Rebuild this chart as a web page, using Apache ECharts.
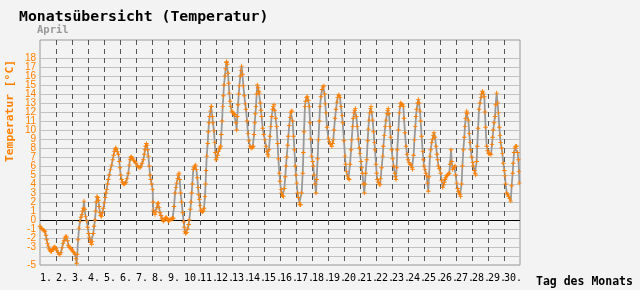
<!DOCTYPE html>
<html>
<head>
<meta charset="utf-8">
<script src="https://cdn.jsdelivr.net/npm/echarts@6/dist/echarts.min.js"></script>
<style>
html,body{margin:0;padding:0;background:#f3f3f3;}
#c{width:640px;height:290px;}
</style>
</head>
<body>
<div id="c"></div>
<script>
// time in days since 1 April 00:00 and temperature in °C
var dayTimes = [
0.00,0.06,0.13,0.2,0.27,0.31,0.37,0.42,0.47,0.52,0.57,0.625,0.68,0.73,0.78,0.83,0.88,0.94,1.0,1.06,1.12,1.19,1.25,1.31,1.38,1.44,1.5,1.56,1.62,1.67,1.72,1.77,1.83,1.875,1.94,
2.0,2.06,2.12,2.19,2.25,2.29,2.33,2.38,2.44,2.5,2.56,2.62,2.67,2.71,2.75,2.79,2.85,2.92,2.98,3.04,3.08,3.125,3.17,3.23,3.27,3.33,3.38,3.44,3.48,3.52,3.56,3.6,3.65,3.69,3.75,3.79,3.85,3.9,3.96,
4.02,4.08,4.12,4.17,4.22,4.27,4.33,4.4,4.48,4.54,4.6,4.65,4.69,4.73,4.77,4.83,4.9,4.96,5.0,5.04,5.1,5.15,5.21,5.27,5.33,5.375,5.44,5.52,5.58,5.625,5.67,5.73,5.79,5.85,5.94,
6.0,6.08,6.15,6.25,6.31,6.38,6.46,6.52,6.56,6.6,6.65,6.69,6.73,6.77,6.83,6.88,6.92,6.98,7.04,7.06,7.08,7.13,7.19,7.25,7.31,7.35,7.4,7.44,7.5,7.56,7.62,7.67,7.71,7.77,7.83,7.88,7.92,7.98,
8.04,8.08,8.125,8.19,8.25,8.29,8.33,8.38,8.44,8.5,8.54,8.6,8.65,8.69,8.73,8.79,8.85,8.92,8.98,9.02,9.06,9.1,9.17,9.23,9.29,9.33,9.4,9.44,9.48,9.52,9.58,9.62,9.67,9.73,9.77,9.83,9.88,9.92,9.96,
10.0,10.04,10.1,10.15,10.21,10.25,10.31,10.35,10.38,10.42,10.48,10.52,10.56,10.6,10.65,10.69,10.73,10.77,10.81,10.875,10.92,10.96,
11.0,11.04,11.1,11.15,11.21,11.25,11.29,11.33,11.38,11.42,11.46,11.5,11.56,11.6,11.65,11.67,11.71,11.75,11.79,11.83,11.88,11.92,11.98,
12.04,12.1,12.15,12.19,12.25,12.29,12.33,12.38,12.42,12.46,12.52,12.56,12.6,12.65,12.71,12.77,12.83,12.875,12.94,
13.0,13.06,13.125,13.19,13.25,13.29,13.33,13.38,13.42,13.46,13.5,13.54,13.58,13.63,13.67,13.71,13.77,13.81,13.85,13.92,13.98,
14.06,14.12,14.19,14.23,14.27,14.31,14.375,14.42,14.48,14.54,14.58,14.625,14.67,14.73,14.79,14.85,14.9,14.96,
15.0,15.06,15.1,15.15,15.21,15.27,15.33,15.375,15.42,15.48,15.52,15.58,15.63,15.67,15.71,15.75,15.79,15.85,15.9,15.96,
16.0,16.04,16.1,16.15,16.21,16.25,16.29,16.35,16.42,16.46,16.5,16.56,16.6,16.65,16.71,16.77,16.83,16.88,16.92,16.98,
17.04,17.08,17.13,17.19,17.25,17.29,17.35,17.4,17.46,17.5,17.56,17.625,17.69,17.75,17.79,17.83,17.875,17.94,
18.02,18.08,18.15,18.23,18.29,18.33,18.38,18.44,18.5,18.56,18.6,18.65,18.7,18.75,18.81,18.88,18.92,
19.0,19.06,19.1,19.15,19.21,19.27,19.33,19.38,19.44,19.48,19.54,19.58,19.625,19.67,19.71,19.77,19.83,19.9,19.96,
20.0,20.06,20.1,20.15,20.21,20.27,20.31,20.35,20.42,20.48,20.52,20.56,20.6,20.65,20.69,20.73,20.79,20.85,20.9,20.94,
21.0,21.04,21.08,21.15,21.21,21.25,21.29,21.35,21.42,21.46,21.52,21.58,21.625,21.69,21.73,21.77,21.81,21.875,21.92,21.98,
22.04,22.1,22.17,22.21,22.25,22.29,22.33,22.4,22.46,22.5,22.54,22.6,22.65,22.71,22.75,22.81,22.88,22.94,
23.0,23.06,23.13,23.19,23.25,23.29,23.35,23.4,23.46,23.5,23.54,23.6,23.65,23.69,23.75,23.79,23.85,23.92,23.96,
24.0,24.06,24.12,24.17,24.21,24.27,24.31,24.375,24.42,24.48,24.54,24.58,24.625,24.69,24.75,24.81,24.85,24.9,24.96,
25.04,25.1,25.17,25.23,25.27,25.31,25.35,25.4,25.46,25.52,25.58,25.63,25.69,25.73,25.79,25.85,25.9,25.94,25.98,
26.04,26.1,26.15,26.21,26.25,26.29,26.35,26.4,26.46,26.52,26.56,26.6,26.65,26.67,26.71,26.77,26.83,26.88,26.92,26.98,
27.04,27.08,27.15,27.19,27.23,27.29,27.33,27.38,27.44,27.5,27.56,27.6,27.65,27.71,27.77,27.81,27.85,27.92,27.98,
28.02,28.08,28.13,28.19,28.25,28.29,28.33,28.38,28.44,28.48,28.54,28.6,28.65,28.71,28.75,28.79,28.85,28.9,28.96,
29.02,29.06,29.1,29.17,29.23,29.29,29.35,29.42,29.48,29.54,29.58,29.63,29.69,29.73,29.79,29.85,29.9,29.94,29.96
];
var temps = [
-0.7,-0.9,-1.0,-1.1,-1.2,-1.3,-1.7,-2.2,-2.6,-2.9,-3.2,-3.4,-3.5,-3.5,-3.3,-3.2,-3.0,-3.0,-3.2,-3.4,-3.6,-3.8,-3.85,-3.6,-3.1,-2.6,-2.3,-2.0,-1.8,-1.9,-2.3,-2.8,-3.0,-3.1,-3.2,
-3.3,-3.5,-3.6,-3.8,-4.3,-4.8,-3.8,-2.2,-0.9,-0.15,0.3,0.6,1.0,1.3,2.1,1.2,0.4,-0.1,-0.8,-1.5,-1.9,-2.2,-2.5,-2.7,-2.4,-1.5,-0.7,0.0,1.0,2.0,2.6,2.5,2.2,1.5,0.8,0.5,0.4,0.8,1.3,
1.9,2.5,3.0,3.4,4.0,4.5,5.0,5.6,6.1,6.7,7.2,7.6,7.8,8.0,7.9,7.6,7.3,6.5,5.8,5.0,4.5,4.2,4.0,4.0,4.1,4.2,4.6,5.2,6.1,6.7,7.0,7.0,6.8,6.6,6.5,
6.3,6.0,5.9,5.8,6.0,6.3,6.7,7.3,7.8,8.2,8.5,8.3,7.8,7.1,6.0,5.0,4.5,4.0,3.4,2.0,1.1,0.8,0.6,0.9,1.4,1.8,1.9,1.4,0.8,0.5,0.2,0.0,-0.15,0.0,0.2,0.3,0.2,0.0,
-0.1,0.0,0.0,0.1,0.1,0.2,0.2,1.5,3.0,3.6,4.1,4.6,5.0,5.2,4.5,3.0,2.0,0.8,-0.2,-0.8,-1.3,-1.5,-1.4,-1.0,-0.5,0.0,1.2,2.0,3.0,4.0,5.6,5.8,6.0,6.1,5.6,4.7,3.6,2.8,2.3,
1.6,1.1,1.0,0.9,1.0,1.3,2.6,4.0,5.5,7.1,8.5,9.8,10.8,11.5,12.1,12.6,12.6,11.5,10.8,9.9,8.6,7.5,
6.7,6.9,7.2,7.6,7.9,8.0,8.2,9.5,11.0,12.6,13.8,15.0,16.0,16.8,17.5,17.6,17.3,16.3,15.2,14.1,13.2,12.6,12.1,
12.0,11.8,11.7,11.7,10.8,10.0,11.5,12.8,14.0,14.9,16.0,16.6,17.1,16.2,14.9,13.8,12.9,12.3,11.0,
9.6,8.8,8.2,8.0,8.0,8.1,8.2,9.5,10.8,11.8,12.6,14.0,15.0,14.7,14.3,14.1,13.0,12.2,11.5,10.2,9.5,
8.9,8.2,7.6,7.3,7.1,7.8,9.3,10.4,11.5,12.3,12.6,12.8,12.2,11.3,10.4,8.5,6.8,5.2,
4.3,3.4,3.0,2.7,2.6,3.5,4.8,6.0,7.0,8.3,9.3,10.5,11.4,11.9,12.1,12.1,11.0,9.3,7.8,6.0,
5.0,4.1,3.0,2.5,1.9,1.7,1.7,3.0,5.2,7.5,9.8,12.6,13.2,13.6,13.7,13.3,12.6,10.8,9.0,7.1,
6.5,6.0,5.0,4.0,3.0,4.5,6.8,8.9,11.0,12.6,13.7,14.5,14.8,14.9,14.0,12.9,11.9,10.3,
9.1,8.7,8.4,8.2,8.5,8.9,10.0,11.3,12.3,13.1,13.6,13.9,13.8,13.6,12.6,11.6,10.8,
8.8,7.1,6.2,5.4,4.9,4.6,4.5,6.2,7.8,8.9,10.4,11.3,11.9,12.2,12.4,11.5,10.4,9.0,8.0,
7.4,6.5,5.8,5.2,4.0,3.0,4.0,5.2,6.7,8.8,10.1,11.1,11.9,12.4,12.6,12.0,11.1,9.8,8.6,7.8,
6.2,5.2,4.5,4.2,4.0,3.9,4.6,5.8,7.1,8.2,9.4,10.4,11.1,11.8,12.2,12.4,11.8,10.4,9.2,7.8,
6.8,6.0,5.2,4.8,4.5,5.8,7.8,10.0,11.9,12.6,13.0,12.9,12.8,12.6,11.3,9.7,8.2,7.3,
6.7,6.4,6.2,6.1,5.8,5.6,7.2,8.9,10.4,11.5,12.3,13.0,13.4,13.0,12.1,11.0,9.3,7.6,6.7,
6.0,5.6,5.2,4.9,4.1,3.2,4.8,7.1,7.8,8.6,9.0,9.4,9.7,9.2,8.2,7.3,6.7,6.0,5.7,
5.2,4.4,3.6,3.9,4.2,4.5,4.7,4.9,5.0,5.1,5.2,6.2,7.8,6.5,5.6,5.8,5.9,6.0,5.0,
4.1,3.5,3.2,3.0,2.8,2.6,4.0,6.0,7.8,9.2,10.4,11.3,11.9,12.1,11.8,11.1,9.6,8.6,7.8,7.0,
6.4,6.0,5.5,5.2,5.0,6.5,8.2,10.2,12.3,13.0,13.6,14.0,14.3,14.1,13.7,12.0,10.3,8.2,7.7,
7.4,7.4,7.3,7.3,8.4,9.2,10.0,10.8,11.5,12.8,14.1,13.0,11.9,10.3,9.4,8.6,8.0,7.4,6.3,
5.5,4.9,4.0,3.0,2.8,2.6,2.4,2.1,3.8,5.2,6.3,7.5,8.0,8.2,8.2,7.5,6.7,5.4,4.1
];
var dayLabels = [];
for (var d = 1; d <= 30; d++) dayLabels.push(d + '.');
var yTickValues = [];
for (var v = -5; v <= 20; v++) yTickValues.push(v);
var yShownMax = 18;

var ORANGE = '#ff8000';
var gridColors = yTickValues.map(function (t) {
  if (t === 0) return '#000000';
  if (t > yShownMax) return 'rgba(0,0,0,0)';
  return '#c2c2c2';
});

var seriesData = dayTimes.map(function (t, i) { return [t, temps[i]]; });

var chart = echarts.init(document.getElementById('c'), null, {renderer: 'canvas'});
chart.setOption({
  backgroundColor: '#f3f3f3',
  animation: false,
  grid: {left: 40, right: 120, top: 40, bottom: 25, show: true, borderColor: '#999999', borderWidth: 1, backgroundColor: 'transparent'},
  xAxis: {
    type: 'value', min: 0, max: 30, interval: 1,
    axisLine: {show: false}, axisTick: {show: false},
    axisLabel: {
      color: '#000', fontFamily: 'DejaVu Sans Mono', fontSize: 10, margin: 8, align: 'left',
      showMinLabel: true, showMaxLabel: true,
      formatter: function (val) { var i = Math.round(val); return i < dayLabels.length ? dayLabels[i] : ''; }
    },
    splitLine: {show: true, showMinLine: false, showMaxLine: false, lineStyle: {color: '#555555', width: 1, type: [5, 4]}}
  },
  yAxis: {
    type: 'value', min: -5, max: 20, interval: 1,
    axisLine: {show: false}, axisTick: {show: false},
    axisLabel: {
      color: ORANGE, fontFamily: 'Liberation Sans', fontSize: 10, margin: 4,
      showMinLabel: true, showMaxLabel: true,
      formatter: function (val) { return val > yShownMax ? '' : String(val); }
    },
    splitLine: {show: true, lineStyle: {color: gridColors, width: 1}}
  },
  series: [{
    type: 'line',
    data: seriesData,
    showSymbol: true,
    symbol: 'path://M2,0H3V2H5V3H3V5H2V3H0V2H2Z',
    symbolSize: 4.5,
    itemStyle: {color: ORANGE},
    lineStyle: {color: '#999999', width: 1.8},
    z: 3
  }],
  graphic: [
    {type: 'text', left: 19, top: 10, style: {text: 'Monatsübersicht (Temperatur)', font: 'bold 14.8px "DejaVu Sans Mono"', fill: '#000'}},
    {type: 'text', left: 37, top: 25, style: {text: 'April', font: 'bold 10.5px "DejaVu Sans Mono"', fill: '#999999'}},
    {type: 'text', left: 536, top: 276, style: {text: 'Tag des Monats', font: 'bold 11.5px "DejaVu Sans Mono"', fill: '#000'}},
    {type: 'text', x: 10, y: 111, rotation: Math.PI / 2,
      style: {text: 'Temperatur [°C]', font: 'bold 11.3px "DejaVu Sans Mono"', fill: ORANGE,
        textAlign: 'center', textVerticalAlign: 'middle', align: 'center', verticalAlign: 'middle'}}
  ]
});
</script>
</body>
</html>
